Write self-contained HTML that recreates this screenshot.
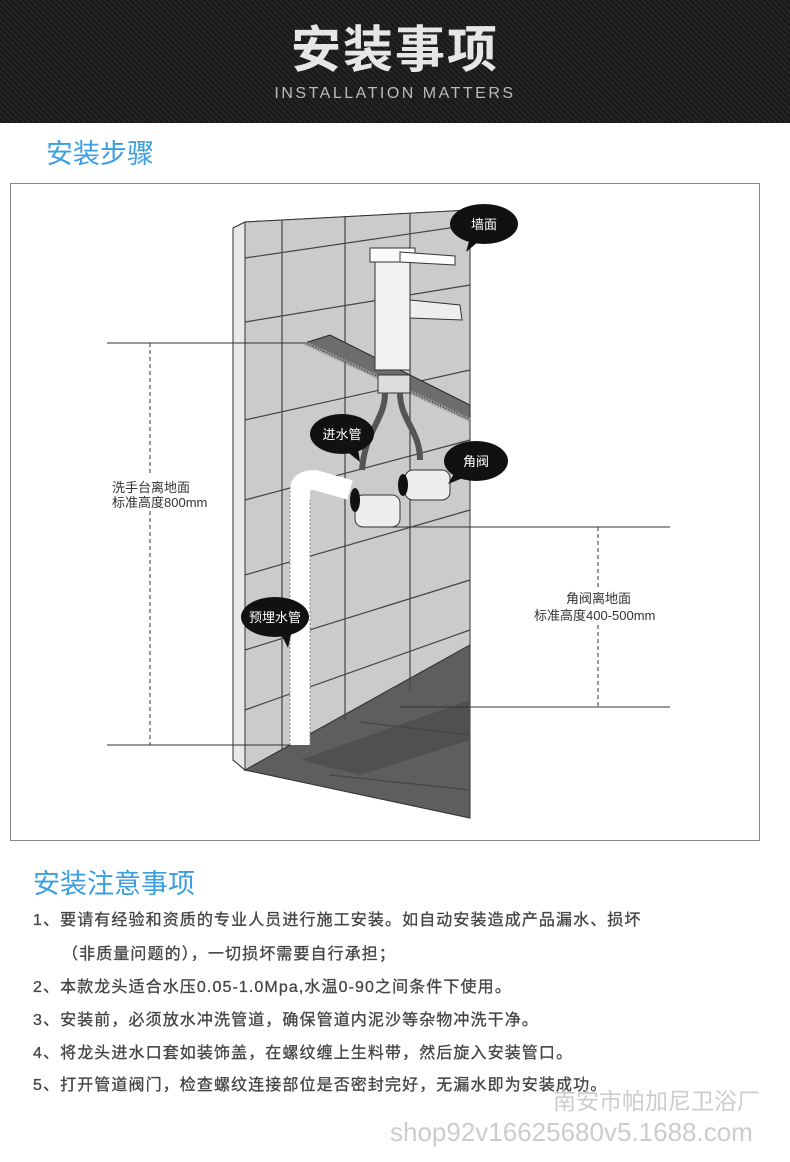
<!DOCTYPE html>
<html><head><meta charset="utf-8"><style>
body{margin:0;width:790px;height:1162px;background:#fff;position:relative;overflow:hidden;font-family:"Liberation Sans","Noto Sans CJK SC",sans-serif}
.hdr{position:absolute;left:0;top:0;width:790px;height:123px;background:#1c1c1c;background-image:repeating-linear-gradient(45deg,#252525 0 2px,#181818 2px 4px)}
.t{position:absolute;white-space:nowrap}
.note{position:absolute;left:33px;font-size:16px;color:#444;white-space:nowrap;letter-spacing:1.1px;-webkit-text-stroke:0.3px #444}
</style></head><body>
<div class="hdr"></div>
<div class="t" style="left:0;width:790px;text-align:center;top:20px;font-size:50px;font-weight:bold;color:#e6e6e6;letter-spacing:2px;line-height:60px">安装事项</div>
<div class="t" style="left:0;width:790px;text-align:center;top:85px;font-size:16px;color:#bbb;letter-spacing:2.5px">INSTALLATION MATTERS</div>
<div class="t" style="left:46px;top:132px;font-size:27px;color:#3a9ee0">安装步骤</div>
<svg style="position:absolute;left:0;top:0" width="790" height="860">
<rect x="10.5" y="183.5" width="749" height="657" fill="none" stroke="#888" stroke-width="1"/>
<polygon points="233,228 245,222 470,210 470,818 245,770 233,760" fill="#cfcfcf" stroke="#333"/>
<polygon points="233,228 245,222 245,770 233,760" fill="#e8e8e8" stroke="#333"/>
<polygon points="245,222 470,210 470,645 245,770" fill="#cbcbcb" stroke="#333"/>
<polygon points="245,770 470,645 470,818" fill="#5e5e5e" stroke="#333"/>
<polygon points="300,760 470,700 470,740 360,775" fill="#505050"/>
<g stroke="#444" stroke-width="1.2" fill="none">
<line x1="282" y1="220" x2="282" y2="750"/><line x1="345" y1="217" x2="345" y2="720"/><line x1="410" y1="214" x2="410" y2="690"/>
<line x1="245" y1="258" x2="470" y2="225"/><line x1="245" y1="322" x2="470" y2="285"/>
<line x1="245" y1="420" x2="470" y2="370"/><line x1="245" y1="500" x2="470" y2="440"/>
<line x1="245" y1="575" x2="470" y2="510"/><line x1="245" y1="650" x2="470" y2="580"/>
<line x1="245" y1="710" x2="470" y2="630"/>
<line x1="330" y1="775" x2="470" y2="790"/><line x1="360" y1="722" x2="470" y2="735"/>
</g>
<polygon points="305,343 330,335 470,405 470,420" fill="#6d6d6d" stroke="#222"/>
<line x1="305" y1="343" x2="470" y2="420" stroke="#999" stroke-width="4" stroke-dasharray="2,1"/>
<rect x="375" y="255" width="35" height="115" fill="#f2f2f2" stroke="#333"/>
<rect x="370" y="248" width="45" height="14" fill="#fafafa" stroke="#333"/>
<polygon points="400,252 455,256 455,265 400,262" fill="#fff" stroke="#333"/>
<polygon points="410,300 460,305 462,320 410,318" fill="#eee" stroke="#333"/>
<rect x="378" y="375" width="32" height="18" fill="#ddd" stroke="#333"/>
<path d="M385,393 C385,420 365,430 362,470" stroke="#555" stroke-width="6" fill="none"/>
<path d="M400,393 C400,420 420,430 420,460" stroke="#555" stroke-width="6" fill="none"/>
<path d="M300,745 L300,490 Q300,480 315,480 L350,490" stroke="#fff" stroke-width="20" fill="none"/>
<path d="M290,745 L290,485 M310,745 L310,500" stroke="#888" stroke-dasharray="2,2" fill="none"/>
<rect x="355" y="495" width="45" height="32" rx="8" fill="#eee" stroke="#333"/>
<rect x="405" y="470" width="45" height="30" rx="8" fill="#eee" stroke="#333"/>
<ellipse cx="355" cy="500" rx="5" ry="12" fill="#111"/><ellipse cx="403" cy="485" rx="5" ry="11" fill="#111"/>
<g stroke="#333" stroke-width="1" fill="none">
<line x1="107" y1="343" x2="305" y2="343"/><line x1="107" y1="745" x2="290" y2="745"/>
<line x1="150" y1="343" x2="150" y2="745" stroke-dasharray="4,3"/>
<line x1="390" y1="527" x2="670" y2="527"/><line x1="400" y1="707" x2="670" y2="707"/>
<line x1="598" y1="527" x2="598" y2="707" stroke-dasharray="4,3"/>
</g>
<rect x="108" y="476" width="100" height="34" fill="#fff"/>
<rect x="532" y="588" width="138" height="36" fill="#fff"/>
<text x="112" y="492" font-size="13" fill="#333" font-family="Liberation Sans,Noto Sans CJK SC,sans-serif">洗手台离地面</text>
<text x="112" y="507" font-size="13" fill="#333" font-family="Liberation Sans,Noto Sans CJK SC,sans-serif">标准高度800mm</text>
<text x="566" y="603" font-size="13" fill="#333" font-family="Liberation Sans,Noto Sans CJK SC,sans-serif">角阀离地面</text>
<text x="534" y="620" font-size="13" fill="#333" font-family="Liberation Sans,Noto Sans CJK SC,sans-serif">标准高度400-500mm</text>
<g fill="#111">
<ellipse cx="484" cy="224" rx="34" ry="20"/><polygon points="470,238 478,242 466,252"/>
<ellipse cx="342" cy="434" rx="32" ry="20"/><polygon points="345,450 358,448 360,462"/>
<ellipse cx="476" cy="461" rx="32" ry="20"/><polygon points="455,472 468,476 448,484"/>
<ellipse cx="275" cy="617" rx="34" ry="20"/><polygon points="280,632 292,630 288,648"/>
</g>
<g fill="#fff" font-size="13" text-anchor="middle" font-family="Liberation Sans,Noto Sans CJK SC,sans-serif">
<text x="484" y="229">墙面</text><text x="342" y="439">进水管</text><text x="476" y="466">角阀</text><text x="275" y="622">预埋水管</text>
</g>
</svg>
<div class="t" style="left:33px;top:862px;font-size:27px;color:#3a9ee0">安装注意事项</div>
<div class="note" style="top:906px">1、要请有经验和资质的专业人员进行施工安装。如自动安装造成产品漏水、损坏</div>
<div class="note" style="top:940px;left:62px">（非质量问题的），一切损坏需要自行承担；</div>
<div class="note" style="top:973px">2、本款龙头适合水压0.05-1.0Mpa,水温0-90之间条件下使用。</div>
<div class="note" style="top:1006px">3、安装前，必须放水冲洗管道，确保管道内泥沙等杂物冲洗干净。</div>
<div class="note" style="top:1039px">4、将龙头进水口套如装饰盖，在螺纹缠上生料带，然后旋入安装管口。</div>
<div class="note" style="top:1071px">5、打开管道阀门，检查螺纹连接部位是否密封完好，无漏水即为安装成功。</div>
<div class="t" style="left:553px;top:1082px;font-size:23px;color:#ccc">南安市帕加尼卫浴厂</div>
<div class="t" style="left:390px;top:1117px;font-size:26px;color:#ccc">shop92v16625680v5.1688.com</div>
</body></html>
